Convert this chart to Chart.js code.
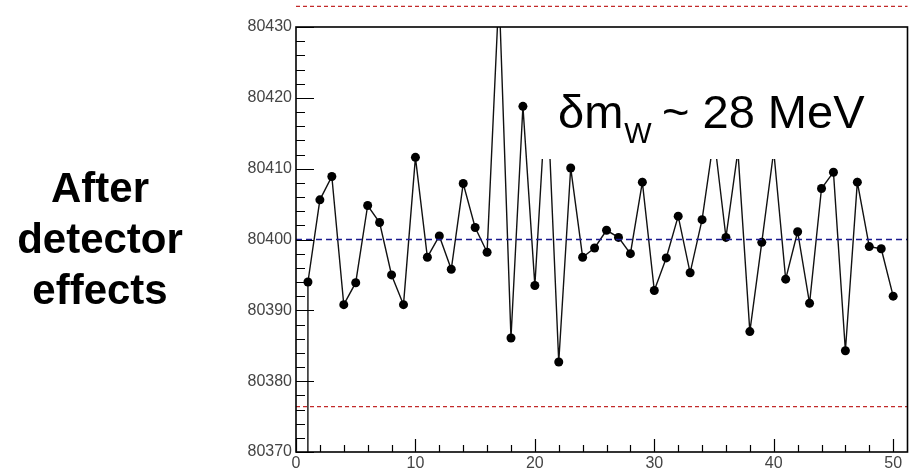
<!DOCTYPE html>
<html>
<head>
<meta charset="utf-8">
<script src="https://cdn.jsdelivr.net/npm/chart.js@4.4.1/dist/chart.umd.min.js"></script>
<style>
  html, body { margin: 0; padding: 0; background: #fff; }
  #wrap { position: relative; width: 912px; height: 468px; overflow: hidden; }
  #chart { position: absolute; left: 0; top: 0; }
  #sideLabel {
    position: absolute; left: 0; top: 162px; width: 200px;
    text-align: center; color: #000;
    font: bold 42px 'Liberation Sans', Arial, sans-serif; line-height: 51px;
  }
</style>
</head>
<body>
<div id="wrap">
  <canvas id="chart" width="912" height="468"></canvas>
  <div id="sideLabel">After<br>detector<br>effects</div>
</div>
<script>
'use strict';

// toy index, entry 0 is the stray point at zero (gives the vertical line at x=1)
let toyIndex = [0, 1, 2, 3, 4, 5, 6, 7, 8, 9, 10,
  11, 12, 13, 14, 15, 16, 17, 18, 19, 20,
  21, 22, 23, 24, 25, 26, 27, 28, 29, 30,
  31, 32, 33, 34, 35, 36, 37, 38, 39, 40,
  41, 42, 43, 44, 45, 46, 47, 48, 49, 50];

// fitted mW per toy (MeV)
let fittedMass = [0, 80394.0, 80405.6, 80408.9, 80390.8, 80393.9, 80404.8, 80402.4, 80395.0, 80390.8, 80411.6,
  80397.5, 80400.5, 80395.8, 80407.9, 80401.7, 80398.2, 80435.0, 80386.1, 80418.8, 80393.5,
  80422.0, 80382.7, 80410.1, 80397.5, 80398.8, 80401.3, 80400.3, 80398.0, 80408.1, 80392.8,
  80397.4, 80403.3, 80395.3, 80402.8, 80414.5, 80400.3, 80412.5, 80387.0, 80399.6, 80412.5,
  80394.4, 80401.1, 80391.0, 80407.2, 80409.5, 80384.3, 80408.1, 80399.0, 80398.7, 80392.0];

// reference lines
let trueMass = 80400;
let upperBand = 80432.9;
let lowerBand = 80376.4;

// axes
let xRange = [0, 51.2];
let yRange = [80370, 80430];
let xTickLabels = [0, 10, 20, 30, 40, 50];
let yTickLabels = [80370, 80380, 80390, 80400, 80410, 80420, 80430];
let minorStep = 2;

let labelFont = '"Liberation Sans", Arial, sans-serif';

let points = toyIndex.map((x, i) => ({ x: x, y: fittedMass[i] }));

function flatLine(value) {
  return [{ x: xRange[0], y: value }, { x: xRange[1], y: value }];
}

// ROOT style frame: box plus inward ticks, and the white text box
const rootFrame = {
  id: 'rootFrame',
  afterDatasetsDraw(chart) {
    const ctx = chart.ctx;
    const a = chart.chartArea;
    ctx.save();
    ctx.fillStyle = '#fff';
    ctx.fillRect(532, a.top + 2, a.right - 536, 159 - a.top - 2);

    ctx.fillStyle = '#000';
    ctx.textBaseline = 'alphabetic';
    ctx.textAlign = 'left';
    ctx.font = '47px ' + labelFont;
    ctx.fillText('δm', 558, 128);
    let tx = 558 + ctx.measureText('δm').width + 1;
    ctx.font = '29px ' + labelFont;
    ctx.fillText('W', tx, 143);
    ctx.font = '47px ' + labelFont;
    ctx.fillText('~ 28 MeV', 662, 128);
    ctx.restore();
  },
  afterDraw(chart) {
    const ctx = chart.ctx;
    const a = chart.chartArea;
    const xs = chart.scales.x;
    const ys = chart.scales.y;
    ctx.save();
    ctx.strokeStyle = '#000';
    ctx.lineWidth = 1.2;
    ctx.beginPath();
    for (let v = yRange[0]; v <= yRange[1]; v += minorStep) {
      let py = Math.round(ys.getPixelForValue(v)) + 0.5;
      let len = yTickLabels.includes(v) ? 18 : 9;
      ctx.moveTo(a.left, py);
      ctx.lineTo(a.left + len, py);
    }
    for (let v = 0; v <= xTickLabels[xTickLabels.length - 1]; v += minorStep) {
      let px = Math.round(xs.getPixelForValue(v)) + 0.5;
      let len = xTickLabels.includes(v) ? 13 : 7;
      ctx.moveTo(px, a.bottom);
      ctx.lineTo(px, a.bottom - len);
    }
    ctx.stroke();
    ctx.lineWidth = 1.6;
    ctx.strokeRect(a.left, a.top, a.right - a.left, a.bottom - a.top);
    ctx.restore();
  }
};

const config = {
  type: 'scatter',
  data: {
    datasets: [
      {
        label: 'upper',
        data: flatLine(upperBand),
        showLine: true,
        borderColor: '#c22a2a',
        borderWidth: 1.2,
        borderDash: [4, 3],
        pointRadius: 0,
        clip: false
      },
      {
        label: 'lower',
        data: flatLine(lowerBand),
        showLine: true,
        borderColor: '#c22a2a',
        borderWidth: 1.2,
        borderDash: [4, 3],
        pointRadius: 0
      },
      {
        label: 'true',
        data: flatLine(trueMass),
        showLine: true,
        borderColor: '#1b1b8f',
        borderWidth: 1.5,
        borderDash: [6, 4],
        pointRadius: 0
      },
      {
        label: 'fitted mW',
        data: points,
        showLine: true,
        borderColor: '#111',
        borderWidth: 1.4,
        pointRadius: 4.5,
        pointBackgroundColor: '#000',
        pointBorderWidth: 0,
        clip: 0
      }
    ]
  },
  options: {
    responsive: false,
    animation: false,
    layout: { padding: { left: 0, right: 2, top: 27, bottom: 0 } },
    plugins: { legend: { display: false }, tooltip: { enabled: false } },
    scales: {
      x: {
        type: 'linear',
        min: xRange[0],
        max: xRange[1],
        grid: { display: false, drawTicks: false },
        border: { display: false },
        afterBuildTicks: s => { s.ticks = xTickLabels.map(v => ({ value: v })); },
        afterFit: s => { s.height = 16; },
        ticks: {
          color: '#444', padding: 2, maxRotation: 0,
          font: { family: labelFont, size: 16 },
          callback: v => String(v)
        }
      },
      y: {
        type: 'linear',
        min: yRange[0],
        max: yRange[1],
        grid: { display: false, drawTicks: false },
        border: { display: false },
        afterBuildTicks: s => { s.ticks = yTickLabels.map(v => ({ value: v })); },
        afterFit: s => { s.width = 296; },
        ticks: {
          color: '#444', padding: 4,
          font: { family: labelFont, size: 16 },
          callback: v => String(v)
        }
      }
    }
  },
  plugins: [rootFrame]
};

let myChart = new Chart(document.getElementById('chart').getContext('2d'), config);
</script>
</body>
</html>
